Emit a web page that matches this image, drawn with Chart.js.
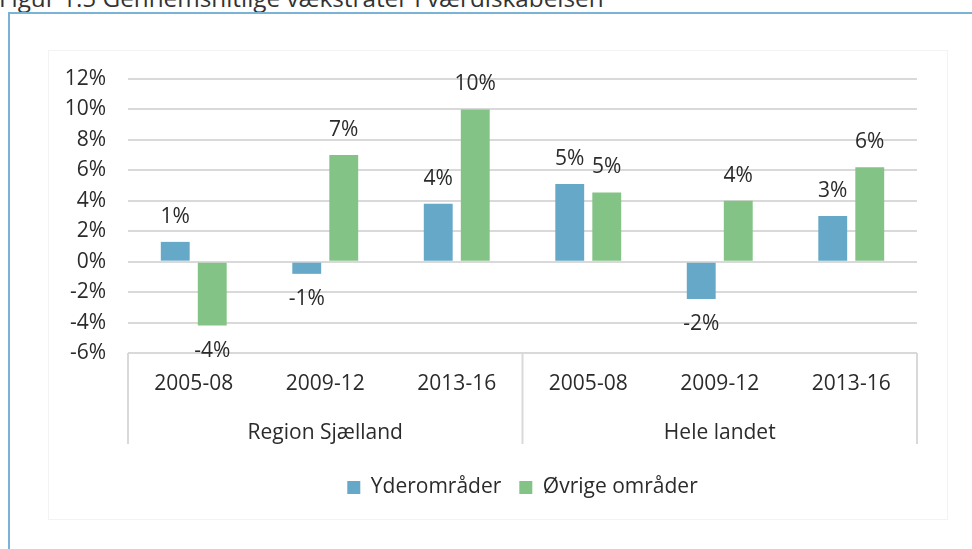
<!DOCTYPE html>
<html>
<head>
<meta charset="utf-8">
<script src="https://cdn.jsdelivr.net/npm/chart.js@4"></script>
<style>
  html, body { margin: 0; padding: 0; background: #fff; overflow: hidden; }
  body { width: 972px; height: 549px; position: relative; font-family: 'Open Sans', sans-serif; }
  #titel { position: absolute; left: -1px; top: -14px; font-size: 24.3px; line-height: 24px; color: #333; white-space: nowrap; }
  #ramme { position: absolute; left: 8px; top: 12px; width: 1000px; height: 600px; border-left: 2px solid #7ab3d6; border-top: 2px solid #7ab3d6; }
  #panel { position: absolute; left: 48px; top: 50px; width: 898px; height: 468px; border: 1px solid #f3f3f3; }
  #wrap { position: absolute; left: 0; top: 0; width: 972px; height: 549px; }
</style>
</head>
<body>
<div id="titel">Figur 1.5 Gennemsnitlige vækstrater i værdiskabelsen</div>
<div id="ramme"></div>
<div id="panel"></div>
<div id="wrap"><canvas id="graf"></canvas></div>
<script>
// kategorier og grupper
var perioder = ['2005-08', '2009-12', '2013-16', '2005-08', '2009-12', '2013-16'];
var grupper = ['Region Sjælland', 'Hele landet'];
// vækstrater i procent
var yderomraader = [1.3, -0.8, 3.8, 5.1, -2.45, 3.0];
var oevrige = [-4.2, 7.0, 10.0, 4.55, 4.0, 6.2];

var tekstfarve = '#2b2b2b';
var gitter = '#d9d9d9';
Chart.defaults.font.family = "'Open Sans', sans-serif";
Chart.defaults.font.size = 21;
Chart.defaults.color = tekstfarve;

// dataetiketter over/under søjlerne
var etiketter = {
  id: 'etiketter',
  afterDatasetsDraw: function (chart) {
    var ctx = chart.ctx;
    ctx.save();
    ctx.font = "21px 'Open Sans', sans-serif";
    ctx.fillStyle = tekstfarve;
    ctx.textAlign = 'center';
    ctx.textBaseline = 'middle';
    chart.data.datasets.forEach(function (ds, i) {
      chart.getDatasetMeta(i).data.forEach(function (bar, j) {
        var v = ds.data[j];
        var y = v >= 0 ? bar.y - 25 : bar.y + 25;
        ctx.fillText(Math.round(v) + '%', bar.x, y);
      });
    });
    ctx.restore();
  }
};

// lodrette skillelinjer i kategoriaksen + forklaring centreret under plotområdet
var skillelinjer = {
  id: 'skillelinjer',
  afterLayout: function (chart) {
    var lg = chart.legend;
    var d = (chart.chartArea.left + chart.chartArea.right) / 2 - (lg.left + lg.right) / 2;
    lg.left += d;
    lg.right += d;
  },
  afterDraw: function (chart) {
    var x = chart.scales.x;
    var ctx = chart.ctx;
    var bund = chart.chartArea.bottom;
    var midt = (x.getPixelForValue(2) + x.getPixelForValue(3)) / 2;
    ctx.save();
    ctx.strokeStyle = gitter;
    ctx.lineWidth = 2;
    [x.left, midt, x.right].forEach(function (px) {
      ctx.beginPath();
      ctx.moveTo(px, bund);
      ctx.lineTo(px, bund + 91);
      ctx.stroke();
    });
    ctx.restore();
  }
};

new Chart(document.getElementById('graf'), {
  type: 'bar',
  data: {
    labels: perioder,
    datasets: [
      {
        label: 'Yderområder',
        data: yderomraader,
        backgroundColor: '#66a8c8',
        categoryPercentage: 0.563,
        barPercentage: 0.78
      },
      {
        label: 'Øvrige områder',
        data: oevrige,
        backgroundColor: '#84c386',
        categoryPercentage: 0.563,
        barPercentage: 0.78
      }
    ]
  },
  options: {
    responsive: true,
    maintainAspectRatio: false,
    animation: false,
    layout: { padding: { top: 79, right: 55, bottom: 41, left: 0 } },
    plugins: {
      legend: {
        position: 'bottom',
        labels: { boxWidth: 13, boxHeight: 13, padding: 18, color: tekstfarve }
      },
      tooltip: { enabled: false }
    },
    scales: {
      y: {
        min: -6,
        max: 12,
        ticks: { stepSize: 2, padding: 22, callback: function (v) { return v + '%'; } },
        grid: { color: gitter, lineWidth: 2, drawTicks: false },
        border: { display: false },
        afterFit: function (s) { s.width = 128; }
      },
      x: {
        ticks: { padding: 18 },
        grid: { display: false, drawTicks: false },
        border: { display: false },
        afterFit: function (s) { s.height = 60; }
      },
      x2: {
        type: 'category',
        labels: grupper,
        position: 'bottom',
        weight: 1,
        ticks: { padding: 7 },
        grid: { display: false, drawTicks: false },
        border: { display: false },
        afterFit: function (s) { s.height = 46; }
      }
    }
  },
  plugins: [etiketter, skillelinjer]
});
</script>
</body>
</html>
